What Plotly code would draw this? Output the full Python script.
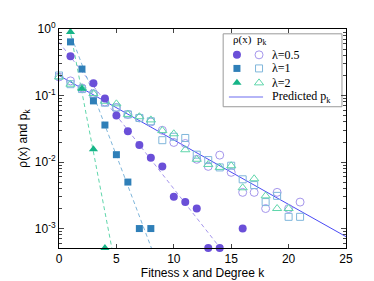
import numpy as np
import plotly.graph_objects as go

# ---------------- data ----------------
# rho(x): fitness distribution samples (filled markers)
rho_x_05 = [1, 3, 4, 5, 6, 7, 8, 9, 10, 11, 12, 13, 14, 16]
rho_y_05 = [0.39, 0.153, 0.090, 0.050, 0.029, 0.018, 0.0116, 0.0086, 0.0030, 0.0025, 0.0020, 0.00051, 0.00051, 0.0010]
rho_x_1 = [1, 2, 3, 4, 5, 6, 7, 8]
rho_y_1 = [0.64, 0.25, 0.083, 0.036, 0.0129, 0.0050, 0.0010, 0.0010]
rho_x_2 = [1, 2, 3, 4]
rho_y_2 = [0.9, 0.126, 0.0156, 0.00051]

# p_k: degree distribution (open markers)
pk_k_05 = list(range(0, 22))
pk_y_05 = [0.19, 0.166, 0.13, 0.107, 0.080, 0.066, 0.052, 0.046, 0.040, 0.030, 0.0197,
           0.019, 0.011, 0.0086, 0.0127, 0.0070, 0.0035, 0.0035, 0.0020, 0.0035, 0.0020, 0.0025]
pk_k_1 = list(range(0, 22))
pk_y_1 = [0.20, 0.148, 0.125, 0.104, 0.078, 0.066, 0.052, 0.046, 0.041, 0.0213, 0.024,
          0.023, 0.0129, 0.0107, 0.0083, 0.0088, 0.0055, 0.0045, 0.0025, 0.0031, 0.0015, 0.0015]
pk_k_2 = list(range(0, 21))
pk_y_2 = [0.19, 0.148, 0.13, 0.107, 0.082, 0.075, 0.052, 0.048, 0.043, 0.0297, 0.0266,
          0.0153, 0.011, 0.0092, 0.0083, 0.0088, 0.0041, 0.0056, 0.0031, 0.0020, 0.0020]

# exponential fits of rho(x): log10 rho = a + b x
fit_lambda = [0.5, 1, 2]
fit_log10_intercept = [-0.198, 0.378, 0.85]
fit_log10_slope = [-0.2204, -0.456, -0.90]

# predicted p_k = (1/(m+1)) (m/(m+1))^k
pred_m = 4.0

x_ticks = [0, 5, 10, 15, 20, 25]
y_tickvals = [1e-3, 1e-2, 1e-1, 1]
y_ticktext = ["10<sup>-3</sup>", "10<sup>-2</sup>", "10<sup>-1</sup>", "10<sup>0</sup>"]

# ---------------- styles ----------------
C_PUR, C_PUR_L = "#6a4fd8", "#a596ec"
C_BLU, C_BLU_L = "#2f7fb8", "#7fb6db"
C_GRN, C_GRN_L = "#16b487", "#5fd6ab"
C_PRED = "#4a4af5"
SERIF = "Liberation Serif"
SANS = "Liberation Sans"

fig = go.Figure()

# dashed fit lines
fit_cols = [C_PUR_L, C_BLU_L, C_GRN_L]
for lam, a, b, c in zip(fit_lambda, fit_log10_intercept, fit_log10_slope, fit_cols):
    xs = np.linspace(0, 16, 200)
    fig.add_trace(go.Scatter(x=xs, y=10 ** (a + b * xs), mode="lines",
                             line=dict(color=c, width=1, dash="4px,3px"),
                             showlegend=False, hoverinfo="skip"))

# predicted line
kk = np.linspace(0, 25, 100)
fig.add_trace(go.Scatter(x=kk, y=(1 / (pred_m + 1)) * (pred_m / (pred_m + 1)) ** kk,
                         mode="lines", line=dict(color=C_PRED, width=1),
                         showlegend=False, hoverinfo="skip"))

# open markers
def open_trace(x, y, sym, col, size):
    return go.Scatter(x=x, y=y, mode="markers", cliponaxis=False, showlegend=False,
                      marker=dict(symbol=sym, size=size, color=col,
                                  line=dict(color=col, width=1)))

fig.add_trace(open_trace(pk_k_05, pk_y_05, "circle-open", C_PUR_L, 8))
fig.add_trace(open_trace(pk_k_1, pk_y_1, "square-open", C_BLU_L, 7))
fig.add_trace(open_trace(pk_k_2, pk_y_2, "triangle-up-open", C_GRN_L, 8))

# filled markers
def filled_trace(x, y, sym, col, size):
    return go.Scatter(x=x, y=y, mode="markers", cliponaxis=False, showlegend=False,
                      marker=dict(symbol=sym, size=size, color=col, line=dict(width=0)))

fig.add_trace(filled_trace(rho_x_05, rho_y_05, "circle", C_PUR, 8))
fig.add_trace(filled_trace(rho_x_1, rho_y_1, "square", C_BLU, 7))
fig.add_trace(filled_trace(rho_x_2, rho_y_2, "triangle-up", C_GRN, 8))

# -------- custom legend (overlay axes in [0,1]) --------
leg_rows_y = [0.882, 0.820, 0.754]
leg_filled = [("circle", C_PUR, 8), ("square", C_BLU, 7), ("triangle-up", C_GRN, 8)]
leg_open = [("circle-open", C_PUR_L, 8), ("square-open", C_BLU_L, 7), ("triangle-up-open", C_GRN_L, 8)]
for yy, (s, c, z) in zip(leg_rows_y, leg_filled):
    fig.add_trace(go.Scatter(x=[0.620], y=[yy], xaxis="x2", yaxis="y2", mode="markers",
                             marker=dict(symbol=s, color=c, size=z), showlegend=False,
                             cliponaxis=False, hoverinfo="skip"))
for yy, (s, c, z) in zip(leg_rows_y, leg_open):
    fig.add_trace(go.Scatter(x=[0.697], y=[yy], xaxis="x2", yaxis="y2", mode="markers",
                             marker=dict(symbol=s, color=c, size=z,
                                         line=dict(color=c, width=1)),
                             showlegend=False, cliponaxis=False, hoverinfo="skip"))
fig.add_trace(go.Scatter(x=[0.592, 0.711], y=[0.690, 0.690], xaxis="x2", yaxis="y2",
                         mode="lines", line=dict(color="#9d9df5", width=1.5),
                         showlegend=False, hoverinfo="skip"))

annos = [
    dict(x=0.600, y=0.950, text="ρ(x)", xanchor="left"),
    dict(x=0.684, y=0.950, text="p<sub>k</sub>", xanchor="left"),
]
for yy, lam in zip(leg_rows_y, ["0.5", "1", "2"]):
    annos.append(dict(x=0.735, y=yy, text="λ=" + lam, xanchor="left", size=12))
annos.append(dict(x=0.735, y=0.690, text="Predicted p<sub>k</sub>", xanchor="left", size=12))
annotations = []
for a in annos:
    annotations.append(dict(x=a["x"], y=a["y"], xref="paper", yref="paper", text=a["text"],
                            xanchor=a["xanchor"], yanchor="middle", showarrow=False,
                            font=dict(family=SERIF, size=a.get("size", 11), color="black")))

shapes = [dict(type="rect", xref="paper", yref="paper", x0=0.572, x1=0.986, y0=0.645, y1=0.978,
               line=dict(color="#999999", width=1), fillcolor="white", layer="below")]

fig.update_layout(
    width=374, height=281,
    margin=dict(l=51, r=36, t=21, b=32),
    paper_bgcolor="white", plot_bgcolor="white",
    font=dict(family=SANS, size=12, color="black"),
    annotations=annotations, shapes=shapes,
    xaxis=dict(range=[0, 25], tickvals=x_ticks, ticks="inside", ticklen=4,
               showgrid=False, zeroline=False, showline=True, linecolor="black",
               linewidth=1, mirror="ticks",
               title=dict(text="Fitness x and Degree k", font=dict(size=12), standoff=2),
               tickfont=dict(size=12)),
    yaxis=dict(type="log", range=[np.log10(5.1e-4), 0], tickvals=y_tickvals,
               ticktext=y_ticktext, ticks="inside", ticklen=5,
               minor=dict(ticks="inside", ticklen=3,
                          tickvals=[m * 10.0 ** e for e in range(-4, 0) for m in range(2, 10)]),
               showgrid=False, zeroline=False, showline=True, linecolor="black",
               linewidth=1, mirror="ticks",
               title=dict(text="ρ(x) and p<sub>k</sub>", font=dict(size=12), standoff=4),
               tickfont=dict(size=12)),
    xaxis2=dict(overlaying="x", range=[0, 1], visible=False, fixedrange=True),
    yaxis2=dict(overlaying="y", range=[0, 1], visible=False, fixedrange=True),
)

fig.write_html("out.html")
